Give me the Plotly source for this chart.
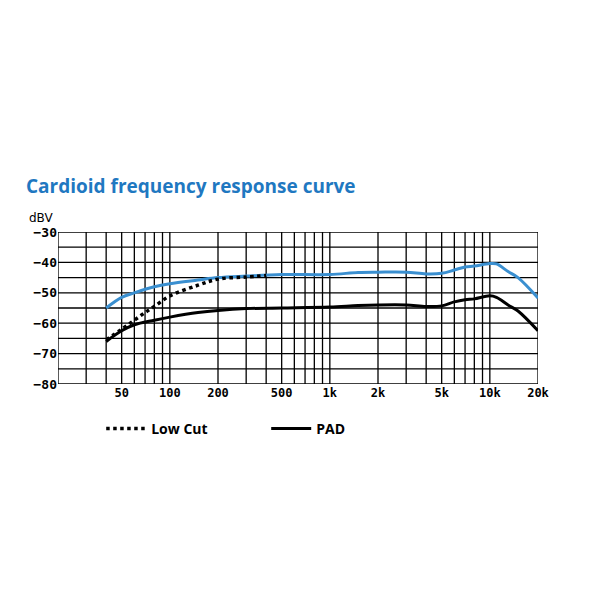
import plotly.graph_objects as go

# Frequenzgang (Hz, dBV)
freq_main = [40, 50, 60, 80, 100, 150, 200, 300, 500, 1000, 1500, 2000, 3000, 4000, 5000,
             6000, 7000, 8000, 10000, 11000, 13000, 15000, 20000]
cardioid = [-55, -51.5, -50, -48, -47, -45.8, -45, -44.5, -44, -44, -43.3, -43.2, -43.2, -43.8, -43.6,
            -42.5, -41.5, -41.2, -40.4, -40.5, -43, -45, -51.7]
pad = [-66, -62.5, -60.5, -59, -58, -56.5, -55.8, -55.2, -55, -54.7, -54.2, -54, -54, -54.5, -54.3,
       -53, -52.3, -52, -51, -51.5, -54, -56, -62.5]

freq_lowcut = [40, 50, 60, 70, 80, 100, 150, 200, 300, 400]
low_cut = [-65.5, -62, -59, -56.5, -54.5, -51, -47.5, -45.5, -44.8, -44.3]

grid_x = [20, 30, 40, 50, 60, 70, 80, 90, 100, 200, 300, 400, 500, 600, 700, 800, 900,
          1000, 2000, 3000, 4000, 5000, 6000, 7000, 8000, 9000, 10000, 20000]
tick_vals = [50, 100, 200, 500, 1000, 2000, 5000, 10000, 20000]
tick_text = ["50", "100", "200", "500", "1k", "2k", "5k", "10k", "20k"]
y_ticks = [-30, -40, -50, -60, -70, -80]

fig = go.Figure()

# Gitterlinien
for gx in grid_x:
    fig.add_shape(type="line", x0=gx, x1=gx, y0=-80, y1=-30, xref="x", yref="y",
                  line=dict(color="black", width=1.3), layer="below")
for gy in range(-80, -29, 5):
    fig.add_shape(type="line", x0=20, x1=20000, y0=gy, y1=gy, xref="x", yref="y",
                  line=dict(color="black", width=1.3), layer="below")

fig.add_trace(go.Scatter(x=freq_main, y=cardioid, mode="lines", line=dict(color="#3a8fd0", width=3),
                         line_shape="spline", showlegend=False))
fig.add_trace(go.Scatter(x=freq_lowcut, y=low_cut, mode="lines", name="<b>Low Cut</b>",
                         line=dict(color="black", width=3.5, dash="dot"), line_shape="spline"))
fig.add_trace(go.Scatter(x=freq_main, y=pad, mode="lines", name="<b>PAD</b>",
                         line=dict(color="black", width=3), line_shape="spline"))

fig.update_layout(
    width=600, height=600,
    paper_bgcolor="white", plot_bgcolor="white",
    margin=dict(l=50, r=70, t=224, b=224),
    font=dict(family="DejaVu Sans", color="black"),
    title=dict(text="<b>Cardioid frequency response curve</b>", x=0.03, xanchor="left", y=0.703,
               yanchor="middle", font=dict(size=19, color="#1f78c1", family="Open Sans")),
    xaxis=dict(type="log", range=[1.30103, 4.30103], tickvals=tick_vals, ticktext=tick_text,
               showgrid=False, zeroline=False, ticks="", showline=False, automargin=False,
               tickfont=dict(size=12, family="DejaVu Sans Mono", weight="bold")),
    yaxis=dict(range=[-80, -30], tickvals=y_ticks, showgrid=False, zeroline=False, ticks="",
               showline=False, automargin=False,
               tickfont=dict(size=13, family="DejaVu Sans Mono", weight="bold")),
    legend=dict(orientation="h", x=0.09, y=-0.19, xanchor="left", yanchor="top",
                font=dict(size=14, family="Open Sans"), itemwidth=40, entrywidth=110),
    annotations=[
        dict(text="dBV", x=0, y=1.0, xref="paper", yref="paper", xanchor="right", yanchor="bottom",
             xshift=-3, yshift=5, showarrow=False, font=dict(size=12)),
        dict(text="<b>Hz</b>", x=720, y=-80, xref="x", yref="y", yanchor="top", yshift=-18,
             showarrow=False, font=dict(size=13, family="DejaVu Sans Mono")),
    ],
)

fig.write_html("out.html")
